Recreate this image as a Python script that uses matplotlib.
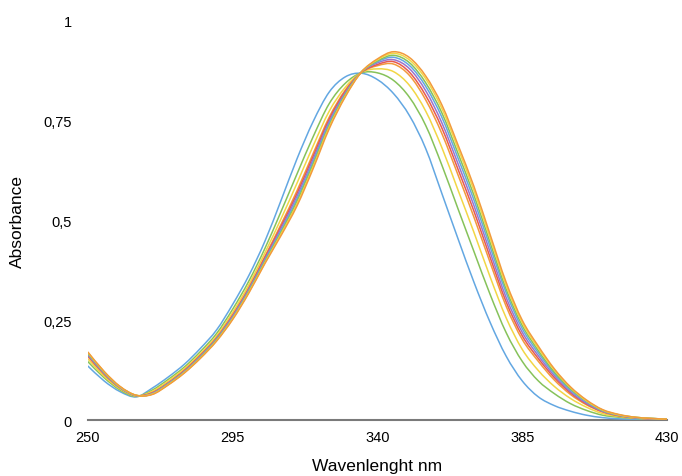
import matplotlib
matplotlib.use("Agg")
from matplotlib import pyplot as plt
from matplotlib.path import Path
from matplotlib.patches import PathPatch
from matplotlib.ticker import FixedLocator, FixedFormatter

plt.rcParams['font.family'] = ['Liberation Sans', 'DejaVu Sans']

# wavelength grid (nm)
wavelength = [250, 255, 260, 265, 270, 275, 280, 285, 290, 295, 300, 305, 310,
              315, 320, 325, 330, 335, 340, 345, 350, 355, 360, 365, 370, 375,
              380, 385, 390, 395, 400, 405, 410, 415, 420, 425, 430]

# absorbance of each scan
scan1 = [0.135, 0.098, 0.071, 0.058, 0.080, 0.108, 0.140, 0.180, 0.226, 0.290, 0.362, 0.448, 0.550,
         0.655, 0.748, 0.822, 0.860, 0.869, 0.853, 0.818, 0.762, 0.680, 0.568, 0.455, 0.345, 0.245,
         0.160, 0.098, 0.058, 0.036, 0.022, 0.012, 0.006, 0.003, 0.002, 0.001, 0.000]
scan2 = [0.146, 0.106, 0.075, 0.059, 0.075, 0.102, 0.133, 0.172, 0.217, 0.278, 0.348, 0.430, 0.522,
         0.617, 0.710, 0.793, 0.844, 0.870, 0.870, 0.851, 0.808, 0.738, 0.639, 0.530, 0.422, 0.315,
         0.219, 0.147, 0.098, 0.066, 0.041, 0.024, 0.012, 0.007, 0.004, 0.002, 0.001]
scan3 = [0.153, 0.110, 0.078, 0.060, 0.072, 0.098, 0.129, 0.167, 0.211, 0.270, 0.339, 0.419, 0.504,
         0.594, 0.687, 0.774, 0.834, 0.871, 0.880, 0.873, 0.838, 0.774, 0.683, 0.577, 0.470, 0.359,
         0.256, 0.177, 0.124, 0.084, 0.054, 0.032, 0.016, 0.009, 0.005, 0.003, 0.001]
scan4 = [0.159, 0.114, 0.080, 0.061, 0.069, 0.094, 0.125, 0.163, 0.207, 0.264, 0.332, 0.410, 0.490,
         0.575, 0.668, 0.759, 0.827, 0.871, 0.888, 0.892, 0.863, 0.802, 0.718, 0.615, 0.508, 0.395,
         0.285, 0.202, 0.147, 0.100, 0.064, 0.038, 0.020, 0.010, 0.005, 0.003, 0.001]
scan5 = [0.161, 0.116, 0.081, 0.061, 0.068, 0.093, 0.124, 0.162, 0.205, 0.262, 0.329, 0.407, 0.485,
         0.568, 0.661, 0.754, 0.824, 0.871, 0.891, 0.898, 0.871, 0.813, 0.732, 0.629, 0.523, 0.408,
         0.296, 0.211, 0.154, 0.106, 0.068, 0.040, 0.021, 0.011, 0.006, 0.003, 0.001]
scan6 = [0.163, 0.117, 0.081, 0.061, 0.067, 0.092, 0.122, 0.160, 0.204, 0.260, 0.327, 0.403, 0.480,
         0.561, 0.654, 0.748, 0.820, 0.872, 0.895, 0.903, 0.880, 0.825, 0.745, 0.643, 0.537, 0.421,
         0.307, 0.220, 0.161, 0.111, 0.071, 0.042, 0.022, 0.012, 0.006, 0.003, 0.002]
scan7 = [0.165, 0.119, 0.082, 0.061, 0.066, 0.091, 0.121, 0.159, 0.202, 0.257, 0.324, 0.400, 0.474,
         0.554, 0.647, 0.743, 0.817, 0.872, 0.898, 0.909, 0.888, 0.836, 0.759, 0.657, 0.551, 0.434,
         0.319, 0.229, 0.168, 0.116, 0.075, 0.045, 0.023, 0.012, 0.006, 0.004, 0.002]
scan8 = [0.167, 0.120, 0.083, 0.062, 0.065, 0.090, 0.120, 0.157, 0.201, 0.255, 0.322, 0.397, 0.470,
         0.548, 0.641, 0.738, 0.815, 0.872, 0.900, 0.914, 0.895, 0.845, 0.770, 0.669, 0.563, 0.445,
         0.328, 0.237, 0.174, 0.120, 0.078, 0.047, 0.024, 0.013, 0.007, 0.004, 0.002]
scan9 = [0.169, 0.121, 0.083, 0.062, 0.065, 0.089, 0.119, 0.156, 0.199, 0.254, 0.320, 0.394, 0.466,
         0.542, 0.635, 0.734, 0.812, 0.872, 0.903, 0.919, 0.902, 0.855, 0.781, 0.681, 0.575, 0.456,
         0.337, 0.244, 0.180, 0.125, 0.081, 0.048, 0.025, 0.013, 0.007, 0.004, 0.002]
scan10 = [0.170, 0.122, 0.084, 0.062, 0.064, 0.088, 0.118, 0.155, 0.198, 0.252, 0.318, 0.392, 0.462,
          0.537, 0.630, 0.730, 0.810, 0.872, 0.905, 0.923, 0.908, 0.862, 0.790, 0.690, 0.585, 0.465,
          0.345, 0.250, 0.185, 0.128, 0.083, 0.050, 0.026, 0.014, 0.007, 0.004, 0.002]

scans = [scan1, scan2, scan3, scan4, scan5, scan6, scan7, scan8, scan9, scan10]

palette = ['#63A7E2', '#86C25A', '#F2D645', '#F29A3C', '#E8594E', '#9B74CB']

x_ticks = [250, 295, 340, 385, 430]
y_ticks = [0, 0.25, 0.5, 0.75, 1]
y_tick_labels = ['0', '0,25', '0,5', '0,75', '1']


def smooth_path(xs, ys):
    # smoothed line through the points (catmull-rom as cubic bezier), like Numbers draws it
    pts = list(zip(xs, ys))
    n = len(pts)
    verts = [pts[0]]
    codes = [Path.MOVETO]
    for i in range(n - 1):
        p0 = pts[max(i - 1, 0)]
        p1 = pts[i]
        p2 = pts[i + 1]
        p3 = pts[min(i + 2, n - 1)]
        c1 = (p1[0] + (p2[0] - p0[0]) / 6, p1[1] + (p2[1] - p0[1]) / 6)
        c2 = (p2[0] - (p3[0] - p1[0]) / 6, p2[1] - (p3[1] - p1[1]) / 6)
        verts += [c1, c2, p2]
        codes += [Path.CURVE4, Path.CURVE4, Path.CURVE4]
    return Path(verts, codes)


fig = plt.figure(figsize=(6.82, 4.77), dpi=100)
ax = fig.add_axes([0.129, 0.1174, 0.849, 0.8365])

for i, s in enumerate(scans):
    patch = PathPatch(smooth_path(wavelength, s), facecolor='none',
                      edgecolor=palette[i % len(palette)], lw=1.1,
                      joinstyle='round', capstyle='round', zorder=2 + i)
    ax.add_patch(patch)

ax.set_xlim(250, 430)
ax.set_ylim(0, 1)
ax.xaxis.set_major_locator(FixedLocator(x_ticks))
ax.yaxis.set_major_locator(FixedLocator(y_ticks))
ax.yaxis.set_major_formatter(FixedFormatter(y_tick_labels))
ax.tick_params(axis='both', length=0, labelsize=10.5, colors='#000000')
ax.tick_params(axis='y', pad=11.5)
ax.tick_params(axis='x', pad=7)

for side in ['top', 'right', 'left']:
    ax.spines[side].set_visible(False)
ax.spines['bottom'].set_color('#7a7a7a')
ax.spines['bottom'].set_linewidth(1.5)
ax.spines['bottom'].set_zorder(1)

ax.set_xlabel('Wavenlenght nm', fontsize=12.5, labelpad=10)
ax.set_ylabel('Absorbance', fontsize=12.5, labelpad=13)

fig.savefig('out.png', dpi=100)
